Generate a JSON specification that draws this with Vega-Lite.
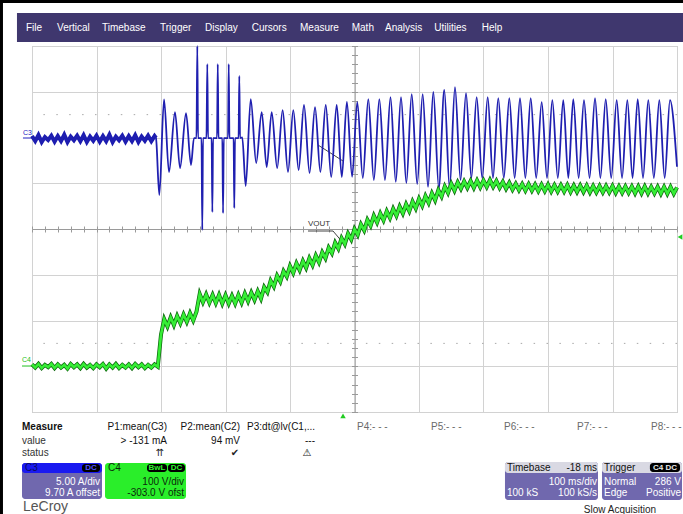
{
"$schema":"https://vega.github.io/schema/vega-lite/v6.json",
"width":645,"height":366,
"autosize":{"type":"none"},
"padding":{"left":32,"top":46,"right":6,"bottom":102},
"background":"#ffffff",
"config":{"view":{"stroke":"#b0b0b0","strokeWidth":1},"font":"Liberation Sans, DejaVu Sans, sans-serif"},
"datasets":{
"bars":[
{"t":-50,"t2":1012,"d":5.02,"d2":4.94,"part":"frame"},
{"t":-50,"t2":-45,"d":5.02,"d2":-6.25,"part":"frame"},
{"t":-23.3,"t2":1012,"d":4.721,"d2":4.087,"part":"menubar"}],
"boxes":[
{"t":-15.5,"t2":108.5,"d":-5.115,"d2":-5.902,"part":"c3body"},
{"t":-15.5,"t2":108.5,"d":-5.115,"d2":-5.333,"part":"c3head"},
{"t":77.5,"t2":105.4,"d":-5.137,"d2":-5.311,"part":"badge"},
{"t":113.2,"t2":238.8,"d":-5.115,"d2":-5.902,"part":"c4body"},
{"t":178.3,"t2":209.3,"d":-5.137,"d2":-5.311,"part":"badge"},
{"t":210.9,"t2":237.2,"d":-5.137,"d2":-5.311,"part":"badge"},
{"t":733.3,"t2":877.5,"d":-5.093,"d2":-5.923,"part":"panel"},
{"t":733.3,"t2":877.5,"d":-5.093,"d2":-5.333,"part":"head"},
{"t":883.7,"t2":1007.8,"d":-5.093,"d2":-5.923,"part":"panel"},
{"t":883.7,"t2":1007.8,"d":-5.093,"d2":-5.333,"part":"head"},
{"t":958,"t2":1004.7,"d":-5.115,"d2":-5.311,"part":"badge"}],
"dots":[{"d":2.5},{"d":-2.5}],
"lines":[
{"t":-14,"t2":0,"d":1.989,"d2":1.989,"c":"b"},
{"t":-15.5,"t2":0,"d":-2.995,"d2":-2.995,"c":"gr"},
{"t":427.9,"t2":466.7,"d":-0.044,"d2":-0.044,"c":"k"},
{"t":466.7,"t2":483.7,"d":-0.044,"d2":-0.328,"c":"k"},
{"t":443.4,"t2":482.2,"d":1.836,"d2":1.486,"c":"k"}],
"textL":[
{"t":-9.3,"d":4.4,"label":"File","c":"w"},
{"t":38.8,"d":4.4,"label":"Vertical","c":"w"},
{"t":108.5,"d":4.4,"label":"Timebase","c":"w"},
{"t":198.5,"d":4.4,"label":"Trigger","c":"w"},
{"t":268.2,"d":4.4,"label":"Display","c":"w"},
{"t":340.6,"d":4.4,"label":"Cursors","c":"w"},
{"t":415.5,"d":4.4,"label":"Measure","c":"w"},
{"t":495.7,"d":4.4,"label":"Math","c":"w"},
{"t":547.3,"d":4.4,"label":"Analysis","c":"w"},
{"t":623.7,"d":4.4,"label":"Utilities","c":"w"},
{"t":697.2,"d":4.4,"label":"Help","c":"w"},
{"t":-15.5,"d":-4.634,"label":"value","c":"k2"},
{"t":-15.5,"d":-4.896,"label":"status","c":"k2"},
{"t":503.9,"d":-4.328,"label":"P4:- - -","c":"g"},
{"t":618.6,"d":-4.328,"label":"P5:- - -","c":"g"},
{"t":731.8,"d":-4.328,"label":"P6:- - -","c":"g"},
{"t":845.0,"d":-4.328,"label":"P7:- - -","c":"g"},
{"t":959.7,"d":-4.328,"label":"P8:- - -","c":"g"},
{"t":-10.9,"d":-5.224,"label":"C3","c":"c3h"},
{"t":117.8,"d":-5.224,"label":"C4","c":"c4h"},
{"t":736.4,"d":-5.224,"label":"Timebase","c":"k"},
{"t":886.8,"d":-5.224,"label":"Trigger","c":"k"},
{"t":736.4,"d":-5.770,"label":"100 kS","c":"w"},
{"t":886.8,"d":-5.530,"label":"Normal","c":"w"},
{"t":886.8,"d":-5.770,"label":"Edge","c":"w"}],
"textR":[
{"t":209.3,"d":-4.328,"label":"P1:mean(C3)","c":"k"},
{"t":322.5,"d":-4.328,"label":"P2:mean(C2)","c":"k"},
{"t":438.8,"d":-4.328,"label":"P3:dt@lv(C1,...","c":"k"},
{"t":209.3,"d":-4.634,"label":"> -131 mA","c":"k"},
{"t":322.5,"d":-4.634,"label":"94 mV","c":"k"},
{"t":438.8,"d":-4.634,"label":"---","c":"k"},
{"t":105.4,"d":-5.530,"label":"5.00 A/div","c":"w"},
{"t":105.4,"d":-5.770,"label":"9.70 A offset","c":"w"},
{"t":235.7,"d":-5.530,"label":"100 V/div","c":"c4h"},
{"t":235.7,"d":-5.770,"label":"-303.0 V ofst","c":"c4h"},
{"t":876.0,"d":-5.224,"label":"-18 ms","c":"k"},
{"t":876.0,"d":-5.530,"label":"100 ms/div","c":"w"},
{"t":876.0,"d":-5.770,"label":"100 kS/s","c":"w"},
{"t":1006.2,"d":-5.530,"label":"286 V","c":"w"},
{"t":1006.2,"d":-5.770,"label":"Positive","c":"w"}],
"textC":[
{"t":198.5,"d":-4.896,"label":"⇈"},
{"t":314.7,"d":-4.896,"label":"✔"},
{"t":426.4,"d":-4.896,"label":"⚠"},
{"t":911.6,"d":-6.142,"label":"Slow Acquisition"}],
"badges":[
{"t":91.5,"d":-5.224,"label":"DC","c":"bb"},
{"t":193.8,"d":-5.224,"label":"BwL","c":"bg"},
{"t":224.0,"d":-5.224,"label":"DC","c":"bg"},
{"t":981.3,"d":-5.224,"label":"C4 DC","c":"bw"}],
"bold":[{"t":-15.5,"d":-4.328,"label":"Measure"}],
"logo":[{"t":-14,"d":-6.083,"label":"LeCroy"}],
"tags":[
{"t":-14,"d":2.098,"label":"C3","c":"b"},
{"t":-15.5,"d":-2.863,"label":"C4","c":"gr"}],
"vout":[{"t":427.9,"d":0.109,"label":"VOUT"}],
"marks":[{"t":482.2,"d":-4.087,"s":"up"},{"t":1004.7,"d":-0.175,"s":"left"}],
"c3":[
{"t":0,"i":0.46},{"t":5,"i":-0.09},{"t":10,"i":0.57},{"t":15,"i":-0.2},{"t":20,"i":0.35},{"t":25,"i":0.02},{"t":30,"i":0.5},{"t":35,"i":-0.15},{"t":40,"i":0.46},{"t":45,"i":-0.09},
{"t":50,"i":0.6},{"t":55,"i":-0.2},{"t":60,"i":0.4},{"t":65,"i":0},{"t":70,"i":0.5},{"t":75,"i":-0.1},{"t":80,"i":0.55},{"t":85,"i":-0.2},{"t":90,"i":0.4},{"t":95,"i":-0.05},
{"t":100,"i":0.5},{"t":105,"i":-0.15},{"t":110,"i":0.45},{"t":115,"i":-0.1},{"t":120,"i":0.6},{"t":125,"i":-0.2},{"t":130,"i":0.4},{"t":135,"i":0},{"t":140,"i":0.5},{"t":145,"i":-0.15},
{"t":150,"i":0.45},{"t":155,"i":-0.1},{"t":160,"i":0.55},{"t":165,"i":-0.2},{"t":170,"i":0.4},{"t":175,"i":-0.05},{"t":180,"i":0.5},{"t":185,"i":-0.1},{"t":190,"i":0.45},
{"t":192.2,"i":0.24},{"t":197.4,"i":-5.99},{"t":204.7,"i":4.46},{"t":212.4,"i":-3.48},{"t":221.7,"i":3.08},{"t":229.5,"i":-3.04},{"t":238.8,"i":2.97},{"t":246.5,"i":-2.71},
{"t":251.1,"i":0.24},{"t":255.0,"i":0.24},{"t":256.3,"i":10.3},{"t":257.4,"i":0.24},{"t":262.8,"i":0.24},{"t":264.0,"i":-9.81},{"t":265.1,"i":0.24},
{"t":270.5,"i":0.24},{"t":271.8,"i":8.33},{"t":272.9,"i":0.24},{"t":278.5,"i":0.24},{"t":279.6,"i":-7.85},{"t":280.7,"i":0.24},
{"t":286.9,"i":0.24},{"t":288.0,"i":8.33},{"t":289.1,"i":0.24},{"t":295.1,"i":0.24},{"t":296.2,"i":-7.96},{"t":297.3,"i":0.24},
{"t":303.9,"i":0.24},{"t":305.0,"i":8.33},{"t":306.1,"i":0.24},{"t":312.6,"i":0.24},{"t":313.6,"i":-7.41},{"t":314.7,"i":0.24},
{"t":320.3,"i":0.24},{"t":321.4,"i":7.02},{"t":322.5,"i":0.24},{"t":326.0,"i":0.3},{"t":331.3,"i":-5.01},
{"t":339.1,"i":4.5},{"t":347.6,"i":-2.49},{"t":356.1,"i":3.08},{"t":363.9,"i":-2.93},{"t":371.6,"i":3.08},{"t":380.1,"i":-3.04},{"t":388.6,"i":3.3},{"t":396.9,"i":-3.48},
{"t":405.1,"i":3.3},{"t":413.4,"i":-3.26},{"t":421.7,"i":3.85},{"t":430.3,"i":-3.58},{"t":438.8,"i":3.63},{"t":447.1,"i":-3.48},{"t":455.4,"i":3.85},{"t":463.9,"i":-4.02},
{"t":472.4,"i":3.85},{"t":480.3,"i":-4.02},{"t":488.2,"i":4.2},{"t":496.3,"i":-3.99},{"t":504.3,"i":4.17},{"t":512.9,"i":-4.13},{"t":521.4,"i":4.5},{"t":530.0,"i":-4.35},
{"t":538.5,"i":4.5},{"t":547.2,"i":-4.35},{"t":555.8,"i":4.72},{"t":564.0,"i":-4.54},{"t":572.1,"i":4.72},{"t":580.4,"i":-4.68},{"t":588.7,"i":5.05},{"t":597.2,"i":-4.79},
{"t":605.7,"i":5.05},{"t":614.0,"i":-5.08},{"t":622.2,"i":5.27},{"t":630.7,"i":-5.22},{"t":639.2,"i":5.49},{"t":647.5,"i":-5.22},{"t":655.8,"i":5.81},{"t":664.4,"i":-4.35},
{"t":672.9,"i":5.16},{"t":681.2,"i":-4.13},{"t":689.4,"i":4.72},{"t":698.0,"i":-4.13},{"t":706.5,"i":4.72},{"t":714.7,"i":-4.13},{"t":722.9,"i":4.61},{"t":731.5,"i":-4.13},
{"t":740.0,"i":4.61},{"t":748.3,"i":-4.13},{"t":756.6,"i":4.61},{"t":764.9,"i":-4.13},{"t":773.2,"i":4.61},{"t":781.7,"i":-4.13},{"t":790.2,"i":4.17},{"t":798.5,"i":-4.13},
{"t":806.7,"i":4.39},{"t":815.2,"i":-4.13},{"t":823.7,"i":4.39},{"t":831.5,"i":-4.13},{"t":839.2,"i":4.5},{"t":847.5,"i":-4.13},{"t":855.8,"i":4.39},{"t":864.4,"i":-4.13},
{"t":872.9,"i":4.61},{"t":881.2,"i":-4.13},{"t":889.5,"i":4.5},{"t":898.0,"i":-4.13},{"t":906.5,"i":4.39},{"t":914.8,"i":-4.13},{"t":923.0,"i":4.39},{"t":931.1,"i":-4.13},
{"t":939.1,"i":4.5},{"t":947.3,"i":-4.13},{"t":955.5,"i":4.39},{"t":964.1,"i":-4.13},{"t":972.6,"i":4.39},{"t":980.9,"i":-4.13},{"t":989.1,"i":4.39},{"t":1000,"i":-2.9}],
"c4":[
{"t":0,"v":7},{"t":5,"v":0},{"t":10,"v":8},{"t":15,"v":-1},{"t":20,"v":6},{"t":25,"v":1},{"t":30,"v":8},{"t":35,"v":-1},{"t":40,"v":7},{"t":45,"v":0},
{"t":50,"v":6},{"t":55,"v":-2},{"t":60,"v":8},{"t":65,"v":1},{"t":70,"v":7},{"t":75,"v":-1},{"t":80,"v":8},{"t":85,"v":0},{"t":90,"v":6},{"t":95,"v":-1},
{"t":100,"v":7},{"t":105,"v":1},{"t":110,"v":8},{"t":115,"v":-2},{"t":120,"v":7},{"t":125,"v":0},{"t":130,"v":8},{"t":135,"v":-1},{"t":140,"v":6},{"t":145,"v":0},
{"t":150,"v":7},{"t":155,"v":-1},{"t":160,"v":8},{"t":165,"v":1},{"t":170,"v":7},{"t":175,"v":-1},{"t":180,"v":6},{"t":185,"v":0},{"t":190,"v":7},{"t":195,"v":2},
{"t":200,"v":72},{"t":205,"v":106},{"t":210,"v":90},{"t":215,"v":110},{"t":220,"v":93},{"t":225,"v":113},{"t":230,"v":97},{"t":235,"v":116},{"t":240,"v":100},{"t":245,"v":119},
{"t":250,"v":103},{"t":255,"v":122},{"t":260,"v":161},{"t":265,"v":143},{"t":270,"v":160},{"t":275,"v":142},{"t":280,"v":159},{"t":285,"v":141},{"t":290,"v":159},{"t":295,"v":140},
{"t":300,"v":158},{"t":305,"v":140},{"t":310,"v":157},{"t":315,"v":140},{"t":320,"v":159},{"t":325,"v":142},{"t":330,"v":162},{"t":335,"v":145},{"t":340,"v":164},{"t":345,"v":148},
{"t":350,"v":167},{"t":355,"v":151},{"t":360,"v":176},{"t":365,"v":165},{"t":370,"v":190},{"t":375,"v":177},{"t":380,"v":201},{"t":385,"v":188},{"t":390,"v":211},{"t":395,"v":199},
{"t":400,"v":222},{"t":405,"v":207},{"t":410,"v":228},{"t":415,"v":213},{"t":420,"v":233},{"t":425,"v":218},{"t":430,"v":239},{"t":435,"v":224},{"t":440,"v":245},{"t":445,"v":230},
{"t":450,"v":252},{"t":455,"v":239},{"t":460,"v":262},{"t":465,"v":250},{"t":470,"v":273},{"t":475,"v":260},{"t":480,"v":283},{"t":485,"v":270},{"t":490,"v":293},{"t":495,"v":280},
{"t":500,"v":303},{"t":505,"v":290},{"t":510,"v":313},{"t":515,"v":300},{"t":520,"v":323},{"t":525,"v":310},{"t":530,"v":332},{"t":535,"v":317},{"t":540,"v":337},{"t":545,"v":322},
{"t":550,"v":342},{"t":555,"v":327},{"t":560,"v":347},{"t":565,"v":332},{"t":570,"v":352},{"t":575,"v":337},{"t":580,"v":357},{"t":585,"v":342},{"t":590,"v":363},{"t":595,"v":348},
{"t":600,"v":369},{"t":605,"v":354},{"t":610,"v":375},{"t":615,"v":360},{"t":620,"v":381},{"t":625,"v":366},{"t":630,"v":388},{"t":635,"v":374},{"t":640,"v":396},{"t":645,"v":382},
{"t":650,"v":402},{"t":655,"v":387},{"t":660,"v":405},{"t":665,"v":391},{"t":670,"v":407},{"t":675,"v":393},{"t":680,"v":408},{"t":685,"v":393},{"t":690,"v":409},{"t":695,"v":394},
{"t":700,"v":409},{"t":705,"v":395},{"t":710,"v":410},{"t":715,"v":395},{"t":720,"v":408},{"t":725,"v":393},{"t":730,"v":406},{"t":735,"v":391},{"t":740,"v":404},{"t":745,"v":389},
{"t":750,"v":402},{"t":755,"v":388},{"t":760,"v":401},{"t":765,"v":387},{"t":770,"v":401},{"t":775,"v":387},{"t":780,"v":400},{"t":785,"v":386},{"t":790,"v":400},{"t":795,"v":386},
{"t":800,"v":400},{"t":805,"v":385},{"t":810,"v":399},{"t":815,"v":385},{"t":820,"v":399},{"t":825,"v":385},{"t":830,"v":399},{"t":835,"v":384},{"t":840,"v":398},{"t":845,"v":384},
{"t":850,"v":398},{"t":855,"v":384},{"t":860,"v":398},{"t":865,"v":383},{"t":870,"v":397},{"t":875,"v":383},{"t":880,"v":397},{"t":885,"v":383},{"t":890,"v":397},{"t":895,"v":383},
{"t":900,"v":397},{"t":905,"v":382},{"t":910,"v":396},{"t":915,"v":382},{"t":920,"v":396},{"t":925,"v":382},{"t":930,"v":396},{"t":935,"v":381},{"t":940,"v":396},{"t":945,"v":381},
{"t":950,"v":396},{"t":955,"v":381},{"t":960,"v":395},{"t":965,"v":381},{"t":970,"v":395},{"t":975,"v":380},{"t":980,"v":395},{"t":985,"v":380},{"t":990,"v":395},{"t":995,"v":380},{"t":1000,"v":394}]
},
"layer":[
{
"layer":[
{"data":{"name":"bars"},"mark":{"type":"rect"},
"encoding":{
"x":{"field":"t","type":"quantitative","scale":{"domain":[0,1000],"nice":false,"zero":false},"axis":{"orient":"bottom","values":[0,100,200,300,400,500,600,700,800,900,1000],"grid":true,"gridColor":"#d2d2d2","labels":false,"ticks":false,"domain":false,"title":null}},
"x2":{"field":"t2"},
"y":{"field":"d","type":"quantitative","scale":{"domain":[-4,4],"nice":false,"zero":false},"axis":{"orient":"left","values":[-4,-3,-2,-1,0,1,2,3,4],"grid":true,"gridColor":"#d2d2d2","labels":false,"ticks":false,"domain":false,"title":null}},
"y2":{"field":"d2"},
"color":{"field":"part","type":"nominal","scale":{"domain":["frame","menubar"],"range":["#000000","#3f376e"]},"legend":null}}},
{"data":{"name":"boxes"},"mark":{"type":"rect","cornerRadius":3},
"encoding":{
"x":{"field":"t","type":"quantitative","scale":{"domain":[0,1000],"nice":false,"zero":false},"axis":{"orient":"bottom","offset":-183,"tickCount":50,"grid":false,"labels":false,"ticks":true,"tickSize":3,"tickColor":"#9a9a9a","domain":true,"domainColor":"#9a9a9a","title":null}},
"x2":{"field":"t2"},
"y":{"field":"d","type":"quantitative","scale":{"domain":[-4,4],"nice":false,"zero":false},"axis":{"orient":"left","offset":-322.5,"tickCount":40,"grid":false,"labels":false,"ticks":true,"tickSize":3,"tickColor":"#9a9a9a","domain":true,"domainColor":"#9a9a9a","title":null}},
"y2":{"field":"d2"},
"color":{"field":"part","type":"nominal","scale":{"domain":["c3body","c3head","badge","c4body","panel","head"],"range":["#7068ae","#1a1af0","#000000","#2aee2a","#7068ae","#d9d9e3"]},"legend":null}}},
{"data":{"name":"dots"},"mark":{"type":"rule","color":"#a8a8a8","strokeDash":[1.5,11.4],"strokeWidth":1},
"encoding":{"y":{"field":"d","type":"quantitative","scale":{"domain":[-4,4],"nice":false,"zero":false},"axis":null}}},
{"data":{"name":"lines"},"mark":{"type":"rule","strokeWidth":1},
"encoding":{
"x":{"field":"t","type":"quantitative","scale":{"domain":[0,1000],"nice":false,"zero":false},"axis":null},
"x2":{"field":"t2"},
"y":{"field":"d","type":"quantitative","scale":{"domain":[-4,4],"nice":false,"zero":false},"axis":null},
"y2":{"field":"d2"},
"color":{"field":"c","type":"nominal","scale":{"domain":["b","gr","k"],"range":["#2020c0","#20c020","#444444"]},"legend":null}}},
{"data":{"name":"textL"},"mark":{"type":"text","align":"left","baseline":"middle","fontSize":10,"font":"Liberation Sans, DejaVu Sans"},
"encoding":{
"x":{"field":"t","type":"quantitative","scale":{"domain":[0,1000],"nice":false,"zero":false},"axis":{"orient":"top","offset":-183,"tickCount":50,"grid":false,"labels":false,"ticks":true,"tickSize":3,"tickColor":"#9a9a9a","domain":false,"title":null}},
"y":{"field":"d","type":"quantitative","scale":{"domain":[-4,4],"nice":false,"zero":false},"axis":{"orient":"right","offset":-322.5,"tickCount":40,"grid":false,"labels":false,"ticks":true,"tickSize":3,"tickColor":"#9a9a9a","domain":false,"title":null}},
"text":{"field":"label"},
"color":{"field":"c","type":"nominal","scale":{"domain":["w","k","k2","g","c3h","c4h"],"range":["#ffffff","#111111","#333333","#6a6a6a","#0a0a60","#0a2a0a"]},"legend":null}}},
{"data":{"name":"textR"},"mark":{"type":"text","align":"right","baseline":"middle","fontSize":10,"font":"Liberation Sans, DejaVu Sans"},
"encoding":{
"x":{"field":"t","type":"quantitative","scale":{"domain":[0,1000],"nice":false,"zero":false},"axis":null},
"y":{"field":"d","type":"quantitative","scale":{"domain":[-4,4],"nice":false,"zero":false},"axis":null},
"text":{"field":"label"},
"color":{"field":"c","type":"nominal","scale":{"domain":["w","k","c4h"],"range":["#ffffff","#111111","#0a2a0a"]},"legend":null}}},
{"data":{"name":"textC"},"mark":{"type":"text","align":"center","baseline":"middle","fontSize":10,"color":"#222222","font":"Liberation Sans, DejaVu Sans"},
"encoding":{
"x":{"field":"t","type":"quantitative","scale":{"domain":[0,1000],"nice":false,"zero":false},"axis":null},
"y":{"field":"d","type":"quantitative","scale":{"domain":[-4,4],"nice":false,"zero":false},"axis":null},
"text":{"field":"label"}}},
{"data":{"name":"badges"},"mark":{"type":"text","align":"center","baseline":"middle","fontSize":8,"fontWeight":"bold","font":"Liberation Sans, DejaVu Sans"},
"encoding":{
"x":{"field":"t","type":"quantitative","scale":{"domain":[0,1000],"nice":false,"zero":false},"axis":null},
"y":{"field":"d","type":"quantitative","scale":{"domain":[-4,4],"nice":false,"zero":false},"axis":null},
"text":{"field":"label"},
"color":{"field":"c","type":"nominal","scale":{"domain":["bb","bg","bw"],"range":["#5050ff","#30f030","#e8e8e8"]},"legend":null}}},
{"data":{"name":"bold"},"mark":{"type":"text","align":"left","baseline":"middle","fontSize":10,"fontWeight":"bold","color":"#111111","font":"Liberation Sans, DejaVu Sans"},
"encoding":{
"x":{"field":"t","type":"quantitative","scale":{"domain":[0,1000],"nice":false,"zero":false},"axis":null},
"y":{"field":"d","type":"quantitative","scale":{"domain":[-4,4],"nice":false,"zero":false},"axis":null},
"text":{"field":"label"}}},
{"data":{"name":"logo"},"mark":{"type":"text","align":"left","baseline":"middle","fontSize":14,"color":"#555555","font":"Liberation Sans, DejaVu Sans"},
"encoding":{
"x":{"field":"t","type":"quantitative","scale":{"domain":[0,1000],"nice":false,"zero":false},"axis":null},
"y":{"field":"d","type":"quantitative","scale":{"domain":[-4,4],"nice":false,"zero":false},"axis":null},
"text":{"field":"label"}}},
{"data":{"name":"tags"},"mark":{"type":"text","align":"left","baseline":"middle","fontSize":7,"font":"Liberation Sans, DejaVu Sans"},
"encoding":{
"x":{"field":"t","type":"quantitative","scale":{"domain":[0,1000],"nice":false,"zero":false},"axis":null},
"y":{"field":"d","type":"quantitative","scale":{"domain":[-4,4],"nice":false,"zero":false},"axis":null},
"text":{"field":"label"},
"color":{"field":"c","type":"nominal","scale":{"domain":["b","gr"],"range":["#2020c0","#20c020"]},"legend":null}}},
{"data":{"name":"vout"},"mark":{"type":"text","align":"left","baseline":"middle","fontSize":8,"color":"#333333","font":"Liberation Sans, DejaVu Sans"},
"encoding":{
"x":{"field":"t","type":"quantitative","scale":{"domain":[0,1000],"nice":false,"zero":false},"axis":null},
"y":{"field":"d","type":"quantitative","scale":{"domain":[-4,4],"nice":false,"zero":false},"axis":null},
"text":{"field":"label"}}},
{"data":{"name":"marks"},"mark":{"type":"point","filled":true,"size":30,"color":"#22cc22","opacity":1},
"encoding":{
"x":{"field":"t","type":"quantitative","scale":{"domain":[0,1000],"nice":false,"zero":false},"axis":null},
"y":{"field":"d","type":"quantitative","scale":{"domain":[-4,4],"nice":false,"zero":false},"axis":null},
"shape":{"field":"s","type":"nominal","scale":{"domain":["up","left"],"range":["triangle-up","triangle-left"]},"legend":null}}}
],
"resolve":{"scale":{"color":"independent","shape":"independent"},"axis":{"x":"independent","y":"independent"}}
},
{"data":{"name":"c3"},"transform":[{"filter":"datum.t <= 192.2"}],"mark":{"type":"line","color":"#1c1cb0","strokeWidth":4},
"encoding":{
"x":{"field":"t","type":"quantitative","scale":{"domain":[0,1000],"nice":false,"zero":false},"axis":null},
"y":{"field":"i","type":"quantitative","scale":{"domain":[-29.7,10.3],"nice":false,"zero":false},"axis":null}}},
{"data":{"name":"c3"},"mark":{"type":"line","color":"#1f1fb0","strokeWidth":1.8,"interpolate":"monotone"},
"encoding":{
"x":{"field":"t","type":"quantitative","scale":{"domain":[0,1000],"nice":false,"zero":false},"axis":null},
"y":{"field":"i","type":"quantitative","scale":{"domain":[-29.7,10.3],"nice":false,"zero":false},"axis":null}}},
{"data":{"name":"c4"},"mark":{"type":"line","color":"#0b650b","strokeWidth":4},
"encoding":{
"x":{"field":"t","type":"quantitative","scale":{"domain":[0,1000],"nice":false,"zero":false},"axis":null},
"y":{"field":"v","type":"quantitative","scale":{"domain":[-97,703],"nice":false,"zero":false},"axis":null}}},
{"data":{"name":"c4"},"mark":{"type":"line","color":"#36ee36","strokeWidth":2.6},
"encoding":{
"x":{"field":"t","type":"quantitative","scale":{"domain":[0,1000],"nice":false,"zero":false},"axis":null},
"y":{"field":"v","type":"quantitative","scale":{"domain":[-97,703],"nice":false,"zero":false},"axis":null}}}
],
"resolve":{"scale":{"y":"independent","color":"independent","shape":"independent"},"axis":{"x":"independent","y":"independent"}}
}
